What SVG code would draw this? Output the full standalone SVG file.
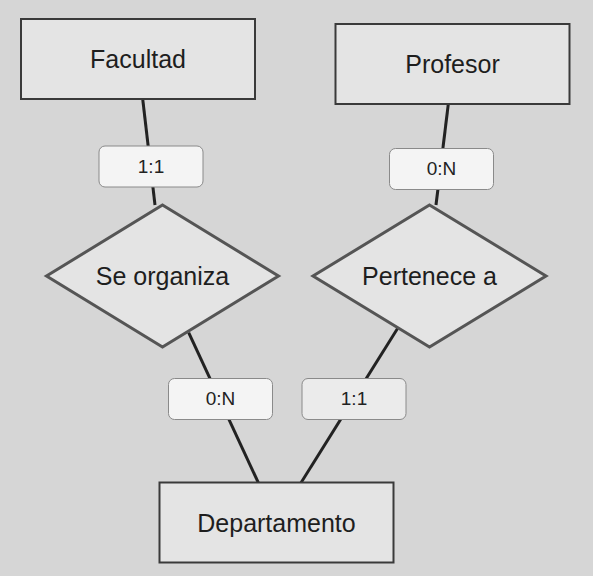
<svg xmlns="http://www.w3.org/2000/svg" width="593" height="576" viewBox="0 0 593 576">
<style>
.bg{fill:#d6d6d6}
.ent{fill:#e4e4e4;stroke:#3a3a3a;stroke-width:2}
.rel{fill:#e4e4e4;stroke:#555;stroke-width:3;stroke-linejoin:miter}
.edge{stroke:#222;stroke-width:3;fill:none}
.lbl{fill:#f4f4f4;stroke:#8a8a8a;stroke-width:1}
.lbl2{fill:#ebebeb;stroke:#8a8a8a;stroke-width:1}
.t{font-family:"Liberation Sans",Arial,sans-serif;font-size:25px;fill:#1e1e1e;text-anchor:middle}
.tl{font-family:"Liberation Sans",Arial,sans-serif;font-size:19px;fill:#222;text-anchor:middle}
</style>
<rect class="bg" x="0" y="0" width="593" height="576"/>
<g id="connectors">
<line class="edge" x1="142.7" y1="99" x2="155" y2="205"/>
<line class="edge" x1="448.3" y1="104" x2="436" y2="205"/>
<line class="edge" x1="188.7" y1="332.7" x2="258.3" y2="482.7"/>
<line class="edge" x1="397.7" y1="328.3" x2="301" y2="482.7"/>
</g>
<g id="facultad">
<rect class="ent" x="21" y="19" width="234" height="80"/>
<text class="t" x="138" y="68">Facultad</text>
</g>
<g id="profesor">
<rect class="ent" x="335.5" y="24" width="234" height="80"/>
<text class="t" x="452.5" y="73">Profesor</text>
</g>
<g id="se-organiza">
<polygon class="rel" points="162.5,205 278.5,276 162.5,347 46.5,276"/>
<text class="t" x="162.5" y="285">Se organiza</text>
</g>
<g id="pertenece-a">
<polygon class="rel" points="429.5,205 546,276 429.5,347 313,276"/>
<text class="t" x="429.5" y="285">Pertenece a</text>
</g>
<g id="departamento">
<rect class="ent" x="159.5" y="482.5" width="234" height="80"/>
<text class="t" x="276.5" y="532">Departamento</text>
</g>
<g id="label-facultad">
<rect class="lbl" x="99" y="146" width="104" height="41" rx="6"/>
<text class="tl" x="151" y="173">1:1</text>
</g>
<g id="label-profesor">
<rect class="lbl" x="389.5" y="148.5" width="104" height="41" rx="6"/>
<text class="tl" x="441.5" y="175">0:N</text>
</g>
<g id="label-departamento-1">
<rect class="lbl" x="168.5" y="378.5" width="104" height="41" rx="6"/>
<text class="tl" x="220.5" y="405">0:N</text>
</g>
<g id="label-departamento-2">
<rect class="lbl2" x="302" y="378.5" width="104" height="41" rx="6"/>
<text class="tl" x="354" y="405">1:1</text>
</g>
</svg>
